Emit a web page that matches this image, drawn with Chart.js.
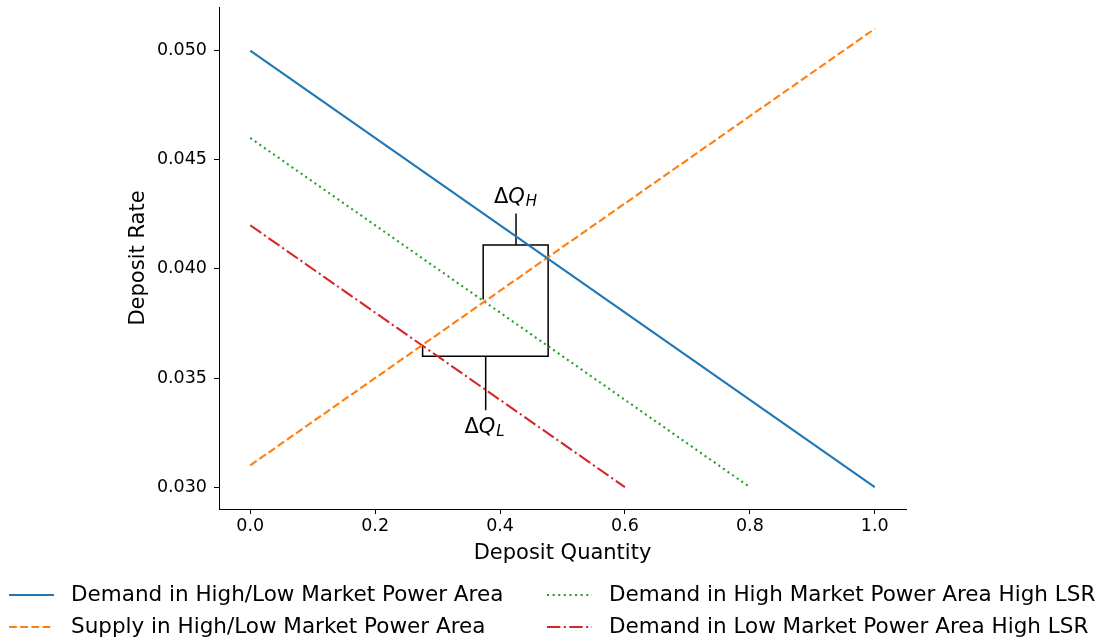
<!DOCTYPE html>
<html>
<head>
<meta charset="utf-8">
<script src="https://cdn.jsdelivr.net/npm/chart.js@4/dist/chart.umd.min.js"></script>
<style>
  body { margin: 0; background: #fff; }
</style>
</head>
<body>
<canvas id="grafico" width="1100" height="643"></canvas>
<script>
// linhas do modelo
const xDemanda = [0, 1];
const yDemanda = [0.050, 0.030];
const xOferta = [0, 1];
const yOferta = [0.031, 0.051];
const xDemandaAltaLSR = [0, 0.8];
const yDemandaAltaLSR = [0.046, 0.030];
const xDemandaBaixaLSR = [0, 0.6];
const yDemandaBaixaLSR = [0.042, 0.030];

const nomes = [
    'Demand in High/Low Market Power Area',
    'Supply in High/Low Market Power Area',
    'Demand in High Market Power Area High LSR',
    'Demand in Low Market Power Area High LSR'
];

// colchetes dQ
const colcheteX = [0.373, 0.373, 0.477, 0.477, 0.276, 0.276];
const colcheteY = [0.0386, 0.0411, 0.0411, 0.0360, 0.0360, 0.0365];
const tracoHX = [0.4256, 0.4256];
const tracoHY = [0.0411, 0.04254];
const tracoLX = [0.377, 0.377];
const tracoLY = [0.0360, 0.03352];
const rotuloHPos = [0.4248, 0.0430];
const rotuloLPos = [0.3752, 0.03247];

const ticksX = [0.0, 0.2, 0.4, 0.6, 0.8, 1.0];
const ticksY = [0.030, 0.035, 0.040, 0.045, 0.050];

const FONTE = 'DejaVu Sans';

function pontos(xs, ys) {
    return xs.map(function (x, i) { return { x: x, y: ys[i] }; });
}

function linha(label, xs, ys, cor, dash) {
    return {
        label: label,
        data: pontos(xs, ys),
        borderColor: cor,
        backgroundColor: cor,
        borderWidth: 2.1,
        borderDash: dash,
        borderCapStyle: 'butt',
        pointRadius: 0,
        tension: 0,
        fill: false
    };
}

function traco(xs, ys) {
    return {
        data: pontos(xs, ys),
        borderColor: '#000',
        borderWidth: 1.5,
        pointRadius: 0,
        tension: 0,
        fill: false
    };
}

const datasets = [
    linha(nomes[0], xDemanda, yDemanda, '#1f77b4', []),
    linha(nomes[1], xOferta, yOferta, '#ff7f0e', [7.8, 3.4]),
    linha(nomes[2], xDemandaAltaLSR, yDemandaAltaLSR, '#2ca02c', [2.1, 3.5]),
    linha(nomes[3], xDemandaBaixaLSR, yDemandaBaixaLSR, '#d62728', [13.4, 3.4, 2.1, 3.4]),
    traco(colcheteX, colcheteY),
    traco(tracoHX, tracoHY),
    traco(tracoLX, tracoLY)
];

function desenharDeltaQ(ctx, cx, base, sub) {
    ctx.save();
    ctx.fillStyle = '#000';
    ctx.textBaseline = 'alphabetic';
    const fDelta = '21px ' + FONTE;
    const fQ = 'italic 21px ' + FONTE;
    const fSub = 'italic 15px ' + FONTE;
    ctx.font = fDelta; const wD = ctx.measureText('\u0394').width;
    ctx.font = fQ; const wQ = ctx.measureText('Q').width;
    ctx.font = fSub; const wS = ctx.measureText(sub).width;
    let x = cx - (wD + wQ + 1 + wS) / 2;
    ctx.textAlign = 'left';
    ctx.font = fDelta; ctx.fillText('\u0394', x, base); x += wD;
    ctx.font = fQ; ctx.fillText('Q', x, base); x += wQ + 1;
    ctx.font = fSub; ctx.fillText(sub, x, base + 3);
    ctx.restore();
}

const pluginExtras = {
    id: 'extras',
    afterDraw: function (chart) {
        const ctx = chart.ctx;
        const sx = chart.scales.x, sy = chart.scales.y;
        desenharDeltaQ(ctx, sx.getPixelForValue(rotuloHPos[0]), sy.getPixelForValue(rotuloHPos[1]), 'H');
        desenharDeltaQ(ctx, sx.getPixelForValue(rotuloLPos[0]), sy.getPixelForValue(rotuloLPos[1]), 'L');

        // legenda em 2 colunas (ordem por coluna)
        const posicoes = [[9, 595], [9, 627], [547, 595], [547, 627]];
        ctx.save();
        for (let i = 0; i < 4; i++) {
            const ds = chart.data.datasets[i];
            const p = posicoes[i];
            ctx.strokeStyle = ds.borderColor;
            ctx.lineWidth = ds.borderWidth;
            ctx.lineCap = 'butt';
            ctx.setLineDash(ds.borderDash);
            ctx.beginPath();
            ctx.moveTo(p[0], p[1]);
            ctx.lineTo(p[0] + 45, p[1]);
            ctx.stroke();
            ctx.setLineDash([]);
            ctx.fillStyle = '#000';
            ctx.font = '21.5px ' + FONTE;
            ctx.textBaseline = 'middle';
            ctx.textAlign = 'left';
            ctx.fillText(ds.label, p[0] + 62, p[1]);
        }
        ctx.restore();
    }
};

const eixo = {
    grid: { display: true, drawOnChartArea: false, drawTicks: true, tickLength: 5, color: '#000', lineWidth: 1 },
    border: { display: true, color: '#000', width: 1 }
};

new Chart(document.getElementById('grafico'), {
    type: 'line',
    data: { datasets: datasets },
    plugins: [pluginExtras],
    options: {
        responsive: false,
        animation: false,
        layout: { padding: { left: 122, top: 7, right: 194, bottom: 73 } },
        plugins: { legend: { display: false }, tooltip: { enabled: false } },
        scales: {
            x: {
                type: 'linear',
                min: -0.05,
                max: 1.05,
                grid: eixo.grid,
                border: eixo.border,
                ticks: { color: '#000', font: { family: FONTE, size: 17.5 }, padding: 2, callback: function (v) { return v.toFixed(1); } },
                title: { display: true, text: 'Deposit Quantity', color: '#000', font: { family: FONTE, size: 21 }, padding: { top: 2, bottom: 4 } },
                afterBuildTicks: function (s) { s.ticks = ticksX.map(function (v) { return { value: v }; }); },
                afterFit: function (s) { s.height = 61; s.paddingLeft = 0; s.paddingRight = 0; }
            },
            y: {
                type: 'linear',
                min: 0.029,
                max: 0.052,
                grid: eixo.grid,
                border: eixo.border,
                ticks: { color: '#000', font: { family: FONTE, size: 17.5 }, padding: 7, callback: function (v) { return v.toFixed(3); } },
                title: { display: true, text: 'Deposit Rate', color: '#000', font: { family: FONTE, size: 21 }, padding: { top: 4, bottom: 4 } },
                afterBuildTicks: function (s) { s.ticks = ticksY.map(function (v) { return { value: v }; }); },
                afterFit: function (s) { s.width = 97; s.paddingTop = 0; s.paddingBottom = 0; }
            }
        }
    }
});
</script>
</body>
</html>
